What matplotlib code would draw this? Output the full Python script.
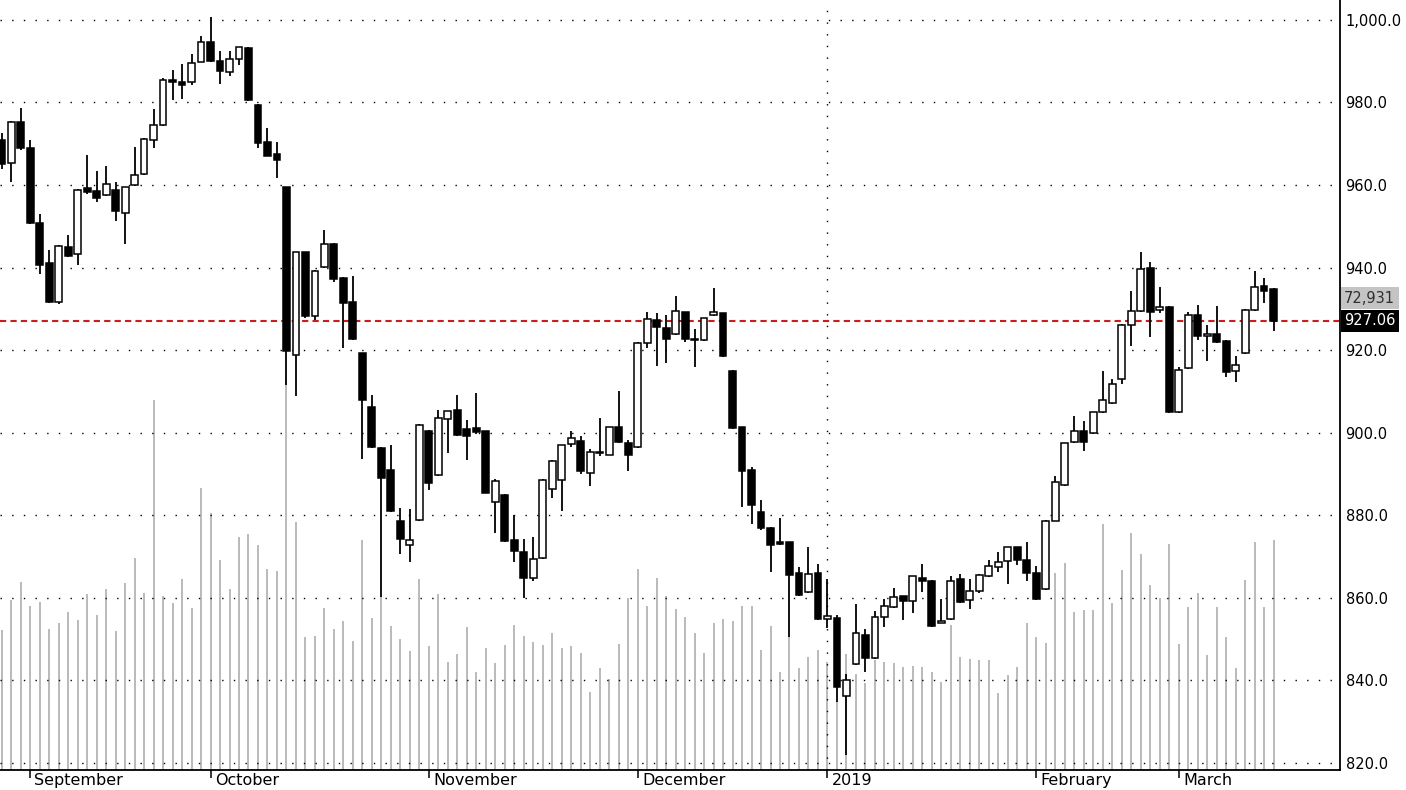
import numpy as np
import matplotlib
matplotlib.use('Agg')
import matplotlib.pyplot as plt
from matplotlib.transforms import blended_transform_factory

# --- data (daily candles, Aug 2018 - Mar 2019) ---
opens = [971.0, 965.3, 975.3, 968.9, 950.8, 941.0, 931.6, 944.9, 943.4, 959.2,
         958.5, 957.6, 958.8, 953.2, 959.9, 962.7, 970.8, 974.5, 985.5, 985.0,
         985.0, 989.9, 994.6, 990.1, 987.3, 990.5, 993.1, 979.4, 970.3, 967.6,
         959.4, 918.8, 943.7, 928.3, 940.2, 945.8, 937.5, 931.7, 919.3, 906.3,
         896.4, 890.9, 878.5, 872.7, 878.8, 900.4, 889.7, 903.2, 905.6, 900.8,
         901.2, 900.4, 883.3, 885.0, 874.0, 871.2, 864.9, 869.6, 886.3, 888.5,
         897.3, 898.1, 890.2, 895.0, 894.7, 901.3, 897.5, 896.5, 921.8, 927.3,
         925.4, 923.9, 929.2, 922.5, 922.4, 928.4, 928.9, 915.0, 901.3, 891.0,
         880.7, 877.0, 873.5, 873.5, 866.1, 861.4, 866.1, 854.9, 855.1, 836.3,
         843.9, 851.1, 845.4, 855.4, 857.8, 860.4, 859.3, 864.9, 864.1, 854.0,
         854.9, 864.5, 859.4, 861.6, 865.3, 867.5, 868.9, 872.2, 869.2, 866.1,
         862.2, 878.7, 887.4, 897.7, 900.3, 900.0, 905.0, 907.2, 912.9, 926.2,
         929.5, 939.8, 929.7, 930.5, 904.9, 915.6, 928.5, 923.4, 924.0, 922.3,
         914.9, 919.2, 929.7, 935.6, 934.9]
highs = [972.5, 975.5, 978.7, 970.8, 953.0, 944.3, 945.4, 947.9, 959.0, 967.3,
         963.3, 964.7, 960.7, 959.6, 969.1, 971.3, 978.3, 986.0, 987.8, 989.2,
         991.7, 996.1, 1000.8, 992.5, 992.5, 993.5, 993.4, 979.5, 973.9, 970.3,
         959.5, 943.8, 943.8, 939.3, 949.2, 945.9, 937.6, 937.9, 919.4, 909.2,
         896.5, 897.1, 881.8, 881.6, 902.0, 900.6, 905.6, 905.3, 909.2, 903.0,
         909.5, 900.5, 888.8, 885.1, 880.1, 874.3, 874.8, 888.7, 893.3, 897.1,
         900.3, 899.1, 896.1, 903.6, 901.4, 910.1, 898.3, 921.9, 929.3, 928.9,
         928.4, 933.2, 929.3, 925.1, 927.8, 935.0, 929.0, 915.1, 901.4, 891.6,
         883.7, 877.1, 879.4, 873.6, 867.4, 872.3, 868.3, 864.6, 855.9, 841.6,
         858.4, 852.4, 856.7, 859.6, 862.4, 860.5, 865.4, 868.3, 864.2, 859.6,
         865.4, 865.7, 864.5, 865.7, 869.2, 871.1, 872.4, 872.3, 873.6, 867.7,
         878.8, 889.6, 897.6, 904.0, 902.8, 905.1, 915.0, 913.1, 926.4, 934.3,
         943.7, 941.3, 935.3, 930.6, 915.8, 929.3, 931.0, 926.2, 930.7, 922.4,
         918.6, 929.9, 939.1, 937.5, 935.0]
lows = [963.8, 960.8, 968.5, 950.5, 938.5, 931.4, 931.1, 942.6, 940.6, 957.9,
        955.8, 957.3, 951.3, 945.8, 959.7, 962.3, 968.9, 974.3, 980.5, 980.9,
        984.2, 989.7, 989.9, 984.4, 986.4, 989.0, 980.3, 968.9, 966.9, 961.8,
        911.5, 908.8, 927.8, 927.3, 940.0, 936.5, 920.5, 922.4, 893.6, 896.4,
        860.3, 880.8, 870.7, 868.7, 878.6, 886.1, 889.5, 895.1, 899.2, 893.3,
        899.8, 885.3, 875.6, 873.6, 868.7, 860.0, 864.0, 869.4, 884.1, 881.1,
        896.5, 890.0, 887.0, 894.3, 894.5, 897.5, 890.6, 896.3, 920.6, 916.2,
        916.8, 923.7, 922.0, 915.8, 922.2, 928.2, 918.3, 901.0, 881.9, 877.8,
        876.4, 866.2, 872.9, 850.5, 860.4, 861.2, 854.7, 852.7, 834.7, 821.9,
        843.7, 842.0, 845.2, 852.9, 857.6, 854.7, 856.3, 861.4, 853.0, 853.8,
        854.7, 858.8, 857.2, 861.1, 865.1, 866.3, 863.3, 868.0, 864.1, 859.4,
        862.0, 878.5, 887.2, 897.5, 895.5, 899.8, 904.8, 907.0, 911.9, 921.0,
        929.3, 923.1, 929.1, 904.8, 904.8, 915.4, 922.4, 917.3, 921.8, 913.5,
        912.3, 919.0, 929.5, 931.5, 924.6]
closes = [965.0, 975.3, 968.9, 950.9, 940.6, 931.6, 945.3, 942.8, 958.8, 958.2,
          956.9, 960.3, 953.6, 959.4, 962.5, 971.2, 974.5, 985.5, 985.0, 984.3,
          989.5, 994.6, 990.1, 987.6, 990.5, 993.3, 980.6, 970.1, 967.1, 966.0,
          919.7, 943.7, 928.3, 939.2, 945.8, 937.2, 931.5, 922.6, 907.9, 896.6,
          889.0, 881.0, 874.3, 874.1, 901.8, 887.8, 903.6, 905.2, 899.4, 899.2,
          900.1, 885.5, 888.3, 873.8, 871.3, 864.9, 869.3, 888.6, 893.1, 897.0,
          898.8, 890.6, 895.3, 895.3, 901.3, 897.7, 894.7, 921.8, 927.5, 925.7,
          922.7, 929.5, 922.7, 922.7, 927.7, 929.2, 918.6, 901.2, 890.6, 882.5,
          876.8, 872.7, 873.1, 865.5, 860.6, 865.7, 854.9, 855.7, 838.5, 840.1,
          851.5, 845.4, 855.4, 858.0, 860.1, 859.3, 865.3, 864.0, 853.1, 854.5,
          864.1, 859.0, 861.6, 865.5, 867.7, 868.8, 872.2, 869.2, 865.9, 859.6,
          878.7, 888.1, 897.5, 900.3, 897.7, 905.0, 907.8, 911.9, 926.2, 929.5,
          939.7, 929.3, 930.5, 904.9, 915.2, 928.5, 923.5, 923.8, 922.0, 914.8,
          916.4, 929.8, 935.3, 934.4, 927.06]
volumes = [44400, 53900, 59600, 52000, 53300, 44700, 46600, 50100, 47600, 55800,
           49200, 57400, 44100, 59300, 67200, 56100, 117300, 55200, 53000, 60600,
           51400, 89400, 81500, 66600, 57400, 73900, 74800, 71300, 63700, 63100,
           123700, 78600, 42200, 42500, 51400, 44700, 47200, 40900, 72900, 48200,
           54900, 45700, 41500, 37700, 60600, 39300, 55800, 34200, 36800, 45300,
           31100, 38700, 33900, 39600, 46000, 42500, 40600, 39600, 43400, 38700,
           39300, 37100, 24700, 32300, 28900, 40000, 54500, 63700, 52000, 60900,
           55200, 51100, 48500, 43400, 37100, 46600, 47900, 47200, 52000, 52000,
           38100, 45700, 31100, 42200, 32300, 35800, 38100, 34200, 21900, 36800,
           30400, 27600, 34900, 34200, 33900, 32700, 33000, 32700, 31100, 27900,
           46000, 35800, 35200, 34900, 34900, 24400, 30100, 32700, 46600, 42200,
           40300, 62500, 65600, 50100, 50700, 50700, 78000, 53000, 63400, 75200,
           68500, 58700, 54500, 71700, 40000, 51700, 56100, 36500, 51700, 42200,
           32300, 60200, 72300, 51700, 72931]

month_pos = [3, 22, 45, 67, 87, 109, 124]
month_labels = ['September', 'October', 'November', 'December', '2019', 'February', 'March']
price_ticks = [820, 840, 860, 880, 900, 920, 940, 960, 980, 1000]
last_price = 927.06
last_volume = 72931

idx = np.arange(len(closes))
o = np.array(opens); h = np.array(highs); l = np.array(lows); c = np.array(closes)

fig = plt.figure(figsize=(14.06, 7.9), dpi=100)
rect = [0.0, 20 / 790, 1340 / 1406, 770 / 790]

# volume behind the candles
axv = fig.add_axes(rect)
axv.vlines(idx, 0, volumes, color='#b4b4b4', linewidth=1.3)
axv.set_ylim(0, 244200)
axv.set_xlim(-0.18, 141.0)
axv.axis('off')

ax = fig.add_axes(rect, sharex=axv)
ax.patch.set_visible(False)
ax.set_ylim(818.3, 1004.8)

dots = (0, (1, 7.4))
for p in price_ticks:
    ax.axhline(p, color='black', linestyle=dots, linewidth=1.0, zorder=1)
ax.axvline(87, color='black', linestyle=dots, linewidth=1.0, zorder=1)
ax.axhline(last_price, color='#c81e1e', linestyle=(0, (3, 2)), linewidth=1.5, zorder=1.5)

# candles
up = c >= o
ax.vlines(idx, l, h, color='black', linewidth=1.3, zorder=2)
body_lo = np.minimum(o, c)
body_h = np.maximum(np.abs(c - o), 0.3)
ax.bar(idx[up], body_h[up], bottom=body_lo[up], width=0.72,
       facecolor='white', edgecolor='black', linewidth=1.1, zorder=3)
ax.bar(idx[~up], body_h[~up], bottom=body_lo[~up], width=0.72,
       facecolor='black', edgecolor='black', linewidth=1.1, zorder=3)

# axes styling
for s in ['left', 'top']:
    ax.spines[s].set_visible(False)
ax.spines['right'].set_linewidth(1.3)
ax.spines['bottom'].set_linewidth(1.3)

ax.yaxis.tick_right()
ax.set_yticks(price_ticks)
ax.set_yticklabels(['{:,.1f}'.format(p) for p in price_ticks])
ax.tick_params(axis='y', length=0, pad=4, labelsize=10.5)

ax.set_xticks(month_pos)
ax.set_xticklabels([''] * len(month_pos))
ax.tick_params(axis='x', direction='out', length=5.5, width=1.1, color='black')
tr = blended_transform_factory(ax.transData, ax.transAxes)
for pos, lab in zip(month_pos, month_labels):
    ax.text(pos + 0.45, -0.004, lab, transform=tr, ha='left', va='top', fontsize=11.5)

# last value tags on the right axis
ty = blended_transform_factory(ax.transAxes, ax.transData)
ax.text(1.003, 932.6, '{:,}'.format(last_volume), transform=ty, ha='left', va='center',
        fontsize=10.5, color='#303030', clip_on=False,
        bbox=dict(facecolor='#c4c4c4', edgecolor='none', pad=2.5))
ax.text(1.003, last_price, '{:.2f}'.format(last_price), transform=ty, ha='left', va='center',
        fontsize=10.5, color='white', clip_on=False,
        bbox=dict(facecolor='black', edgecolor='none', pad=2.5))

plt.savefig('out.png', dpi=100)
